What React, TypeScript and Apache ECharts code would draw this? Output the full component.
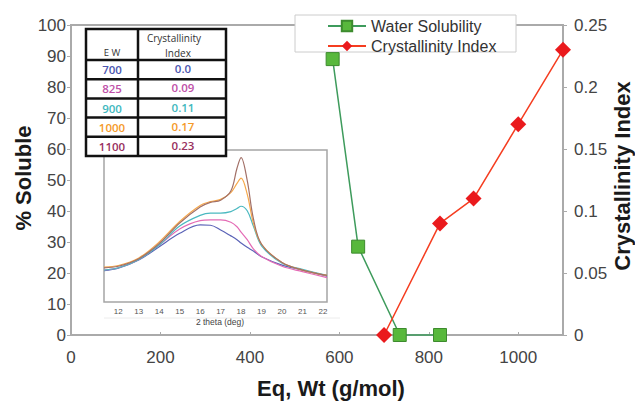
import React, { useEffect, useRef } from "react";
import * as echarts from "echarts";

// Main chart data
const eqWtSol = [585, 642, 735, 825];
const solubility = [89, 28.5, 0, 0];
const eqWtCI = [700, 825, 900, 1000, 1100];
const crystIndex = [0, 0.09, 0.11, 0.17, 0.23];

// Inset table
const tableEW = ["700", "825", "900", "1000", "1100"];
const tableCI = ["0.0", "0.09", "0.11", "0.17", "0.23"];
const tableColors = ["#4a56b0", "#c050a8", "#3fb8be", "#f59a2a", "#98305e"];

// Inset XRD curves (2 theta vs relative intensity)
const theta = [11.3, 12, 13, 14, 15, 16, 16.5, 17, 17.5, 17.8, 18, 18.3, 18.6, 19, 20, 21, 22.2];
const ew700 = [20.6, 22.2, 27.6, 36.4, 45.2, 50.7, 50.5, 47.4, 43.5, 41, 38.8, 36, 33.5, 29.8, 24.3, 21, 17];
const ew825 = [21, 22.5, 28, 37.5, 48, 53.5, 54, 54, 52.5, 49.5, 46, 41, 35, 30, 23.5, 20, 16];
const ew900 = [21, 22.5, 28, 37.5, 50, 57, 58.5, 58.5, 59.5, 61.5, 63, 60, 50, 37, 25.5, 21.5, 17.5];
const ew1000 = [23, 24, 29, 39.5, 53, 63.5, 66, 67.5, 72, 78, 81.5, 71, 52, 38, 26, 21, 17.5];
const ew1100 = [22.5, 23.5, 28.5, 38.5, 52, 62.5, 65.5, 67, 73, 88, 95, 80, 55, 38, 26, 21, 17.5];
const insetTicks = [12, 13, 14, 15, 16, 17, 18, 19, 20, 21, 22];

const curves = [
  { name: "700", data: ew700, color: "#5b63b7" },
  { name: "825", data: ew825, color: "#e46bb5" },
  { name: "900", data: ew900, color: "#4bb9c0" },
  { name: "1000", data: ew1000, color: "#f6a84a" },
  { name: "1100", data: ew1100, color: "#a27067" },
];

const FONT = "Liberation Sans, Arial, sans-serif";
const NARROW = "Liberation Sans Narrow, Arial Narrow, Liberation Sans, sans-serif";

function buildTable() {
  const els: any[] = [];
  const x0 = 86, x1 = 226, xm = 138, y0 = 29, yh = 60, y1 = 156;
  const rowH = (y1 - yh) / tableEW.length;
  els.push({
    type: "rect", z: 10,
    shape: { x: x0, y: y0, width: x1 - x0, height: y1 - y0 },
    style: { fill: "#fff", stroke: "#111", lineWidth: 2.5 },
  });
  els.push({ type: "line", z: 11, shape: { x1: xm, y1: y0, x2: xm, y2: y1 }, style: { stroke: "#111", lineWidth: 2.5 } });
  for (let i = 0; i < tableEW.length; i++) {
    const y = yh + i * rowH;
    els.push({ type: "line", z: 11, shape: { x1: x0, y1: y, x2: x1, y2: y }, style: { stroke: "#111", lineWidth: 2.5 } });
    els.push({
      type: "text", z: 12, x: (x0 + xm) / 2, y: y + rowH / 2,
      style: { text: tableEW[i], fill: tableColors[i], fontSize: 11.5, fontWeight: 600, fontFamily: "Open Sans, sans-serif", align: "center", verticalAlign: "middle" },
    });
    els.push({
      type: "text", z: 12, x: (xm + x1) / 2 + 1, y: y + rowH / 2 - 1,
      style: { text: tableCI[i], fill: tableColors[i], fontSize: 11.5, fontWeight: 600, fontFamily: "Open Sans, sans-serif", align: "center", verticalAlign: "middle" },
    });
  }
  els.push({ type: "text", z: 12, x: 112, y: 52, style: { text: "E W", fill: "#333", fontSize: 9.5, fontFamily: "Open Sans, sans-serif", align: "center", verticalAlign: "middle" } });
  els.push({ type: "text", z: 12, x: 174, y: 38, style: { text: "Crystallinity", fill: "#333", fontSize: 10, fontFamily: "Open Sans, sans-serif", align: "center", verticalAlign: "middle" } });
  els.push({ type: "text", z: 12, x: 178, y: 53, style: { text: "Index", fill: "#333", fontSize: 10, fontFamily: "Open Sans, sans-serif", align: "center", verticalAlign: "middle" } });
  return els;
}

export default function App() {
  const ref = useRef<HTMLDivElement>(null);
  useEffect(() => {
    const chart = echarts.init(ref.current!, null, { renderer: "svg" });
    const option: any = {
      animation: false,
      backgroundColor: "#fff",
      grid: [
        { left: 71, top: 25, right: 72, bottom: 66, show: true, borderColor: "#aaaaaa", borderWidth: 2 },
        { left: 104, top: 150, width: 223, height: 152, show: true, borderColor: "#a5a5a5", borderWidth: 1.5 },
      ],
      xAxis: [
        {
          gridIndex: 0, type: "value", min: 0, max: 1100, interval: 200,
          axisLine: { show: false }, splitLine: { show: false },
          axisTick: { show: true, inside: true, length: 3, lineStyle: { color: "#aaa" } },
          axisLabel: { showMaxLabel: false, fontSize: 17, color: "#444", margin: 14, fontFamily: NARROW, formatter: (v: number) => String(v) },
        },
        {
          gridIndex: 1, type: "value", min: 11.3, max: 22.2,
          axisLine: { show: false }, splitLine: { show: false }, axisTick: { show: false },
          axisLabel: { customValues: insetTicks, fontSize: 8, color: "#555", margin: 5, fontFamily: FONT },
        },
      ],
      yAxis: [
        {
          gridIndex: 0, type: "value", position: "left", min: 0, max: 100, interval: 10,
          axisLine: { show: false }, splitLine: { show: false },
          axisTick: { show: true, length: 4, lineStyle: { color: "#aaa" } },
          axisLabel: { fontSize: 17, color: "#444", margin: 5, fontFamily: NARROW },
        },
        {
          gridIndex: 0, type: "value", position: "right", min: 0, max: 0.25, interval: 0.05,
          axisLine: { show: false }, splitLine: { show: false },
          axisTick: { show: true, length: 4, lineStyle: { color: "#aaa" } },
          axisLabel: { fontSize: 17, color: "#444", margin: 11, fontFamily: NARROW },
        },
        { gridIndex: 1, type: "value", min: 0, max: 100, show: false },
      ],
      legend: {
        data: ["Water Solubility", "Crystallinity Index"],
        orient: "vertical", left: 327, top: 18, padding: 0,
        itemWidth: 38, itemHeight: 13, itemGap: 4, z: 20,
        textStyle: { fontSize: 16, color: "#333", fontFamily: FONT },
      },
      graphic: [
        { type: "rect", z: 3, shape: { x: 295, y: 15, width: 221, height: 37 }, style: { fill: "#fff", stroke: "#cccccc", lineWidth: 1 } },
        ...buildTable(),
        { type: "text", x: 23, y: 178, rotation: Math.PI / 2, style: { text: "% Soluble", fontSize: 22, fontWeight: "bold", fontFamily: FONT, fill: "#1a1a1a", align: "center", verticalAlign: "middle" } },
        { type: "text", x: 622, y: 176, rotation: Math.PI / 2, style: { text: "Crystallinity Index", fontSize: 22, fontWeight: "bold", fontFamily: FONT, fill: "#1a1a1a", align: "center", verticalAlign: "middle" } },
        { type: "text", x: 331, y: 388, style: { text: "Eq, Wt (g/mol)", fontSize: 22, fontWeight: "bold", fontFamily: FONT, fill: "#1a1a1a", align: "center", verticalAlign: "middle" } },
        { type: "text", x: 220, y: 322, style: { text: "2 theta (deg)", fontSize: 8.5, fontFamily: FONT, fill: "#444", align: "center", verticalAlign: "middle" } },
        { type: "line", shape: { x1: 104, y1: 318, x2: 340, y2: 318 }, style: { stroke: "#ececec", lineWidth: 1 } },
      ],
      series: [
        ...curves.map((c) => ({
          name: c.name, type: "line", xAxisIndex: 1, yAxisIndex: 2,
          data: theta.map((t, i) => [t, c.data[i]]),
          showSymbol: false, smooth: 0.35,
          lineStyle: { color: c.color, width: 1.2 }, itemStyle: { color: c.color },
          z: 1,
        })),
        {
          name: "Water Solubility", type: "line", xAxisIndex: 0, yAxisIndex: 0,
          data: eqWtSol.map((x, i) => [x, solubility[i]]),
          symbol: "rect", symbolSize: 13, clip: false,
          itemStyle: { color: "#58b83c", borderColor: "#3d8b2e", borderWidth: 1 },
          lineStyle: { color: "#3e9b5c", width: 1.5 },
        },
        {
          name: "Crystallinity Index", type: "line", xAxisIndex: 0, yAxisIndex: 1,
          data: eqWtCI.map((x, i) => [x, crystIndex[i]]),
          symbol: "diamond", symbolSize: 16, clip: false,
          itemStyle: { color: "#ea1a1d" },
          lineStyle: { color: "#f53d20", width: 1.5 },
        },
      ],
    };
    chart.setOption(option);
    return () => chart.dispose();
  }, []);
  return <div ref={ref} style={{ position: "fixed", left: 0, top: 0, width: 635, height: 401 }} />;
}
